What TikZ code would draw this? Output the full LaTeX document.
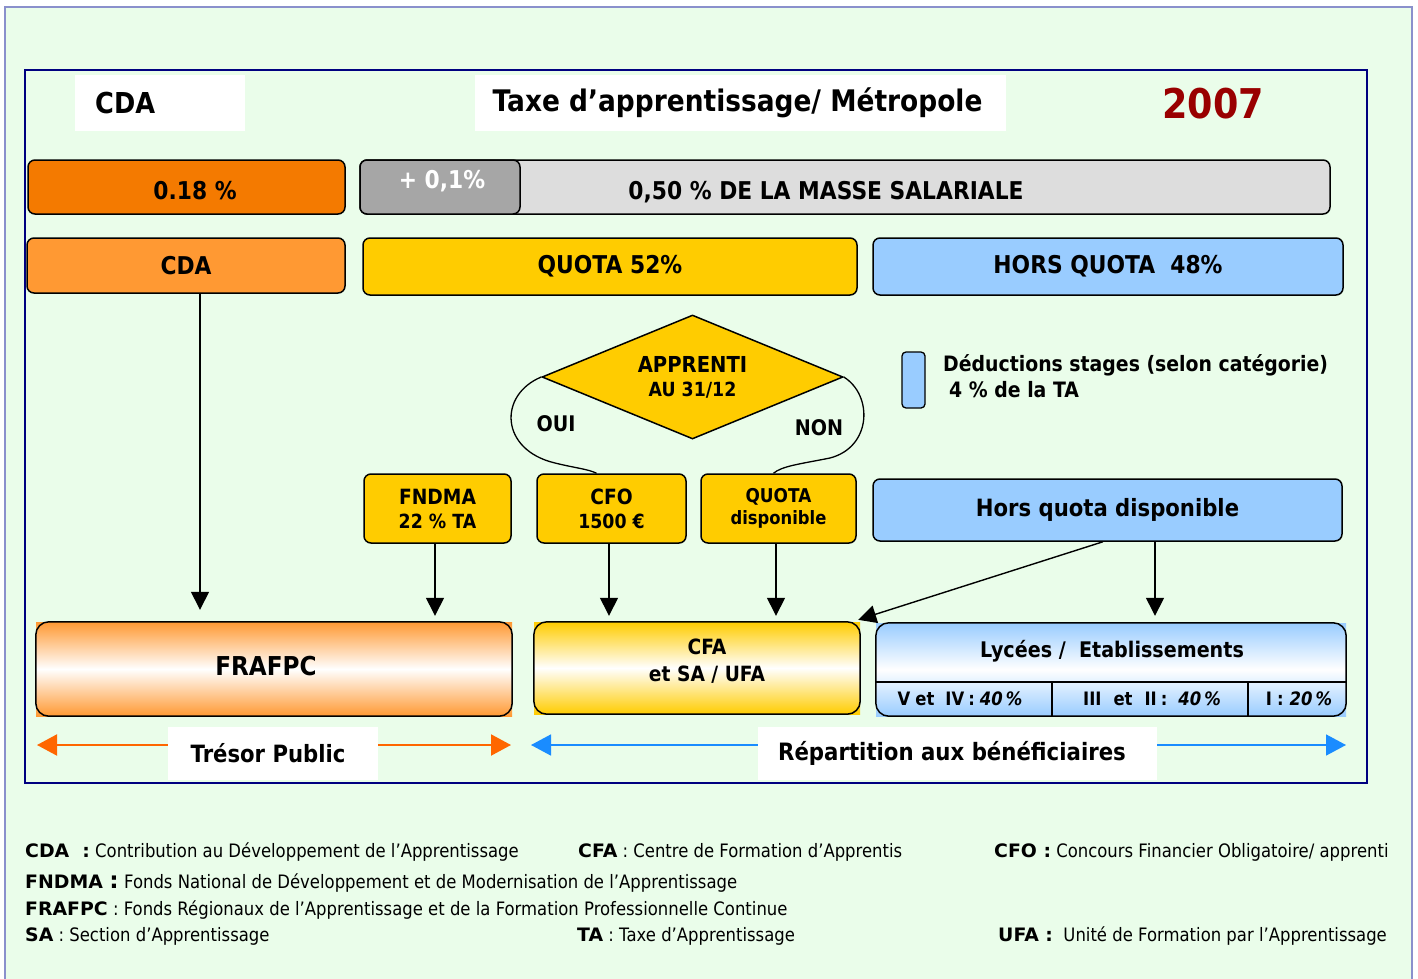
\documentclass[tikz,border=0pt]{standalone}
\usepackage{fontspec}
\setmainfont{DejaVu Sans}[FakeStretch=0.89]
\newfontfamily\legbold{DejaVu Sans}[FakeStretch=1.02]
\usetikzlibrary{shapes.geometric,arrows.meta,calc}
\definecolor{bg}{HTML}{EAFDEA}
\definecolor{frame}{HTML}{000080}
\definecolor{outerc}{HTML}{8A90CC}
\definecolor{orgdark}{HTML}{F47A00}
\definecolor{orglight}{HTML}{FF9933}
\definecolor{gold}{HTML}{FFCC00}
\definecolor{sky}{HTML}{99CCFF}
\definecolor{greyA}{HTML}{A6A6A6}
\definecolor{greyB}{HTML}{DDDDDD}
\definecolor{redyear}{HTML}{990000}
\definecolor{arrorange}{HTML}{FF6600}
\definecolor{arrblue}{HTML}{1A8CFF}
\newcommand\fsz[2]{\fontsize{#1}{#2}\selectfont}
\newcommand\lb[1]{{\legbold\bfseries #1}}
\begin{document}
\begin{tikzpicture}[x=1pt,y=-1pt,
  box/.style={draw=black, line width=1.5pt, rounded corners=7pt, inner sep=0pt, align=center, font=\bfseries\fsz{24.5}{29}},
  lbl/.style={inner sep=0pt, align=center, font=\bfseries\fsz{24.5}{29}},
  wbox/.style={fill=white, inner sep=0pt, align=center},
  arr/.style={line width=1.4pt, -{Triangle[width=18pt,length=18pt]}},
  dbl/.style={line width=2pt, {Triangle[width=21pt,length=20pt]}-{Triangle[width=21pt,length=20pt]}},
  leg/.style={anchor=base west, inner sep=0pt, font=\fsz{18.5}{20}},
  sub/.style={inner sep=0pt, font=\bfseries\fsz{18.5}{20}}
]
\useasboundingbox (0,0) rectangle (1418,979);
\clip (0,0) rectangle (1418,979);
\fill[white] (0,0) rectangle (1418,979);
\fill[bg] (5,7) rectangle (1412,1000);
\draw[outerc, line width=1.2pt] (5,1000) -- (5,7) -- (1412,7) -- (1412,1000);
\draw[frame, line width=2pt] (25,70) rectangle (1367,783);

% titles
\node[wbox, anchor=west, inner xsep=20pt, text width=130pt, minimum height=56pt, align=left, font=\bfseries\fsz{28.8}{34}] (cdat) at (75,103) {CDA};
\node[wbox, minimum width=531pt, minimum height=56pt, font=\bfseries\fsz{29.7}{34}] (title) at (740.5,103) {\hspace{-6pt}Taxe d’apprentissage/ Métropole};
\node[inner sep=0pt, text=redyear, font=\bfseries\fsz{41}{48}] (year) at (1213,104) {2007};

% row 1
\node[box, fill=orgdark, minimum width=317pt, minimum height=54pt] (pct) at (186.5,187) {};
\node[lbl] (pctt) at (195,191) {0.18 \%};
\node[box, fill=greyB, minimum width=970pt, minimum height=54pt] (mass) at (845,187) {};
\node[box, fill=greyA, minimum width=160pt, minimum height=54pt] (plus) at (440,187) {};
\node[lbl, text=white] (plust) at (442,181) {+ 0,1\%};
\node[lbl] (masst) at (826,192) {0,50 \% DE LA MASSE SALARIALE};

% row 2
\node[box, fill=orglight, minimum width=318pt, minimum height=55pt] (cda) at (186,265.5) {CDA};
\node[box, fill=gold, minimum width=494pt, minimum height=57pt] (quota) at (610,266.5) {QUOTA 52\%};
\node[box, fill=sky, minimum width=470pt, minimum height=57pt] (hq) at (1108,266.5) {HORS QUOTA\ \ 48\%};

% diamond
\node[diamond, draw=black, line width=1.5pt, fill=gold, shape aspect=2.43, minimum width=301pt, minimum height=124pt, inner sep=0pt, align=center, font=\bfseries\fsz{20}{24}] (appr) at (692.5,377) {\fsz{22}{24}APPRENTI\\\fsz{19.5}{24}AU 31/12};
\node[lbl, font=\bfseries\fsz{21.5}{25}] (oui) at (556,424) {OUI};
\node[lbl, font=\bfseries\fsz{21.5}{25}] (non) at (819,428) {NON};

% deductions
\node[box, fill=sky, rounded corners=4pt, line width=1.3pt, minimum width=23pt, minimum height=56pt] (ded) at (913.5,380) {};
\node[anchor=west, inner sep=0pt, align=left, font=\bfseries\fsz{21.2}{26}] (dedt) at (943,376) {Déductions stages (selon catégorie)\\\hspace{6pt}4 \% de la TA};

% row 3
\node[box, fill=gold, minimum width=147pt, minimum height=69pt, font=\bfseries\fsz{20}{24}] (fndma) at (437.5,508.5) {\fsz{21}{24}FNDMA\\\fsz{19.5}{24}22 \% TA};
\node[box, fill=gold, minimum width=149pt, minimum height=69pt, font=\bfseries\fsz{20}{24}] (cfo) at (611.5,508.5) {\fsz{21}{24}CFO\\\fsz{19.5}{24}1500 €};
\node[box, fill=gold, minimum width=155pt, minimum height=69pt, font=\bfseries\fsz{19}{22}] (quotad) at (778.5,508.5) {\fsz{19}{22}QUOTA\\\fsz{18.4}{22}disponible};
\node[box, fill=sky, minimum width=469pt, minimum height=62pt, font=\bfseries\fsz{23.8}{28}] (hqd) at (1107.5,510) {Hors quota disponible};

% curves
\draw[line width=1.3pt] (appr.west) .. controls (498,395) and (500,450) .. (555,463) .. controls (575,468) and (588,469) .. ([xshift=-15pt]cfo.north);
\draw[line width=1.3pt] (appr.east) .. controls (873,395) and (872,447) .. (830,458) .. controls (800,464) and (782,466) .. ([xshift=-5pt]quotad.north);

% row 4
\node[inner sep=0pt, minimum width=476pt, minimum height=94pt, top color=orglight, bottom color=orglight, middle color=white] (frafpc) at (274,669) {};
\draw[line width=1.5pt, rounded corners=13pt] (frafpc.south west) rectangle (frafpc.north east);
\node[lbl, font=\bfseries\fsz{26}{30}] (frafpct) at (266,666) {FRAFPC};

\node[inner sep=0pt, minimum width=326pt, minimum height=92pt, top color=gold, bottom color=gold, middle color=white] (cfa) at (697,668) {};
\draw[line width=1.5pt, rounded corners=13pt] (cfa.south west) rectangle (cfa.north east);
\node[lbl, font=\bfseries\fsz{21}{27}] (cfat) at (707,661.5) {CFA\\et SA / UFA};

\node[inner sep=0pt, minimum width=470pt, minimum height=93pt, top color=sky, bottom color=sky, middle color=white] (lyc) at (1111,669.5) {};
\draw[line width=1.5pt, rounded corners=13pt] (lyc.south west) rectangle (lyc.north east);
\draw[line width=1.2pt] ([yshift=-12.5pt]lyc.west) -- ([yshift=-12.5pt]lyc.east);
\draw[line width=1.2pt] (1052,682) -- (1052,716);
\draw[line width=1.2pt] (1248,682) -- (1248,716);
\node[lbl, font=\bfseries\fsz{21.5}{26}] (lyct) at (1112,651) {Lycées /\ \ Etablissements};
\node[sub] (s1) at (960,699) {V\hspace{5pt}et\hspace{11pt}IV\hspace{4pt}:\hspace{5pt}\textit{40\hspace{3pt}\%}};
\node[sub] (s2) at (1152,699) {III\hspace{12pt}et\hspace{12pt}II\hspace{4pt}:\hspace{11pt}\textit{40\hspace{3pt}\%}};
\node[sub] (s3) at (1299,699) {I\hspace{5pt}:\hspace{6pt}\textit{20\hspace{3pt}\%}};

% arrows
\draw[arr, shorten >=12pt] ([xshift=14pt]cda.south) -- ([xshift=14pt]cda.south |- frafpc.north);
\draw[arr, shorten >=6pt] ([xshift=-2.5pt]fndma.south) -- ([xshift=-2.5pt]fndma.south |- frafpc.north);
\draw[arr, shorten >=6pt] ([xshift=-2.5pt]cfo.south) -- ([xshift=-2.5pt]cfo.south |- cfa.north);
\draw[arr, shorten >=6pt] ([xshift=-2.5pt]quotad.south) -- ([xshift=-2.5pt]quotad.south |- cfa.north);
\draw[arr] ([xshift=-4.5pt]hqd.south) -- ([xshift=-2pt,yshift=2pt]cfa.north east);
\draw[arr, shorten >=7pt] ([xshift=47.5pt]hqd.south) -- ([xshift=47.5pt]hqd.south |- lyc.north);

% bottom double arrows
\coordinate (tl) at (37,745);
\coordinate (tr) at (511,745);
\coordinate (rl) at (531,745);
\coordinate (rr) at (1346,745);
\draw[dbl, arrorange] (tl) -- (tr);
\draw[dbl, arrblue, line width=1.6pt] (rl) -- (rr);
\node[wbox, minimum width=210pt, minimum height=53pt, font=\bfseries\fsz{23.8}{28}] (tresor) at (273,753.5) {\hspace{-10pt}Trésor Public};
\node[wbox, minimum width=399pt, minimum height=53pt, font=\bfseries\fsz{23.9}{28}] (repart) at (957.5,753.5) {\hspace{-11pt}Répartition aux bénéficiaires};

% legend
\node[leg] (l1a) at (25,857) {\lb{CDA\ \ :} Contribution au Développement de l’Apprentissage};
\node[leg] (l1b) at (578,857) {\lb{CFA} : Centre de Formation d’Apprentis};
\node[leg] (l1c) at (994,857) {\lb{CFO :} Concours Financier Obligatoire/ apprenti};
\node[leg] (l2) at (25,888) {\lb{FNDMA {\fsz{23}{20}:}} Fonds National de Développement et de Modernisation de l’Apprentissage};
\node[leg] (l3) at (25,915) {\lb{FRAFPC} : Fonds Régionaux de l’Apprentissage et de la Formation Professionnelle Continue};
\node[leg] (l4a) at (25,941) {\lb{SA} : Section d’Apprentissage};
\node[leg] (l4b) at (577,941) {\lb{TA} : Taxe d’Apprentissage};
\node[leg] (l4c) at (998,941) {\lb{UFA :}\ \ Unité de Formation par l’Apprentissage};
\end{tikzpicture}
\end{document}
